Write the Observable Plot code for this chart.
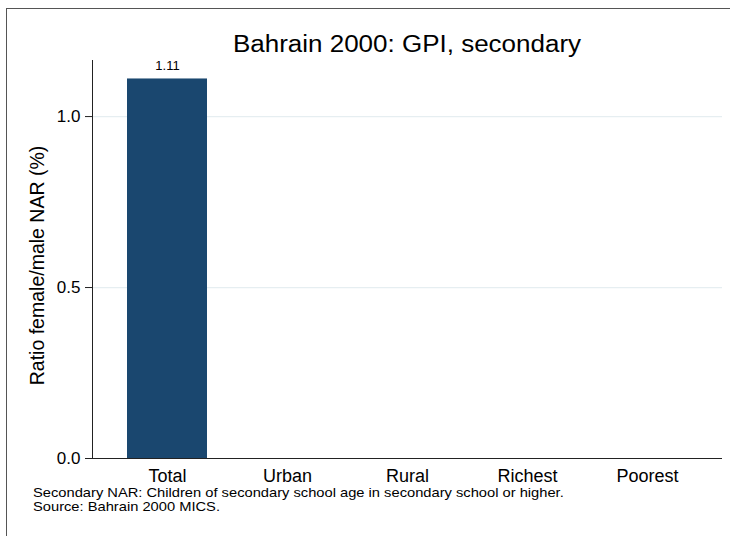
<!DOCTYPE html>
<html>
<head>
<meta charset="utf-8">
<script src="https://cdn.jsdelivr.net/npm/d3@7"></script>
<script src="https://cdn.jsdelivr.net/npm/@observablehq/plot@0.6"></script>
<style>
  html, body { margin: 0; padding: 0; background: #fff; }
  body { width: 730px; height: 536px; overflow: hidden; position: relative; font-family: "Liberation Sans", Arial, Helvetica, sans-serif; }
  #border { position: absolute; left: 6px; top: 8px; width: 900px; height: 700px; border-left: 1px solid #555; border-top: 1px solid #555; }
  #title { position: absolute; left: 92px; width: 630px; top: 30px; line-height: 28px; text-align: center; font-size: 23px; color: #000; transform: scaleX(1.13); transform-origin: 50% 50%; }
  #chart { position: absolute; left: 0; top: 52px; }
  #notes { position: absolute; left: 33px; top: 486px; font-size: 13px; line-height: 14px; color: #000; transform: scaleX(1.13); transform-origin: 0 0; white-space: nowrap; }
</style>
</head>
<body>
<div id="border"></div>
<div id="title"></div>
<div id="chart"></div>
<div id="notes"></div>
<script>
const categories = ["Total", "Urban", "Rural", "Richest", "Poorest"];
const values = [1.11, null, null, null, null];
const yTicks = [0, 0.5, 1.0];
const yTickLabels = ["0.0", "0.5", "1.0"];
const yLabel = "Ratio female/male NAR (%)";
const titleText = "Bahrain 2000: GPI, secondary";
const noteLines = [
  "Secondary NAR: Children of secondary school age in secondary school or higher.",
  "Source: Bahrain 2000 MICS."
];

document.getElementById("title").textContent = titleText;
document.getElementById("notes").innerHTML = noteLines.map(s => `<div>${s}</div>`).join("");

const data = categories.map((c, i) => ({cat: c, value: values[i]}));
const present = data.filter(d => d.value != null);

const chart = Plot.plot({
  width: 730,
  height: 433,
  marginLeft: 92,
  marginRight: 8,
  marginTop: 8,
  marginBottom: 27,
  style: {fontFamily: "'Liberation Sans', Arial, Helvetica, sans-serif", background: "transparent", color: "#000"},
  x: {domain: categories, range: [107, 707], paddingInner: 1/3, paddingOuter: 1/6, label: null},
  y: {domain: [0, 1.164], label: null},
  marks: [
    Plot.ruleY(yTicks.filter(t => t > 0), {stroke: "#e6eef1", strokeWidth: 1.2}),
    Plot.barY(present, {x: "cat", y: "value", fill: "#1a476f"}),
    Plot.text(present, {x: "cat", y: "value", text: d => d.value.toFixed(2), dy: -13, fontSize: 13, fill: "#000"}),
    Plot.axisY({ticks: yTicks, tickFormat: d => yTickLabels[yTicks.indexOf(d)], tickSize: 7, tickPadding: 5, fontSize: 17, label: null, stroke: "#222"}),
    Plot.axisX({tickSize: 0, tickPadding: 11, fontSize: 18, label: null}),
    Plot.ruleY([0], {stroke: "#222"}),
    Plot.frame({anchor: "left", stroke: "#222"}),
    Plot.text([yLabel], {frameAnchor: "left", rotate: -90, textAnchor: "middle", dx: -55, dy: 6, fontSize: 19.5, fill: "#000"})
  ]
});
document.getElementById("chart").appendChild(chart);
</script>
</body>
</html>
